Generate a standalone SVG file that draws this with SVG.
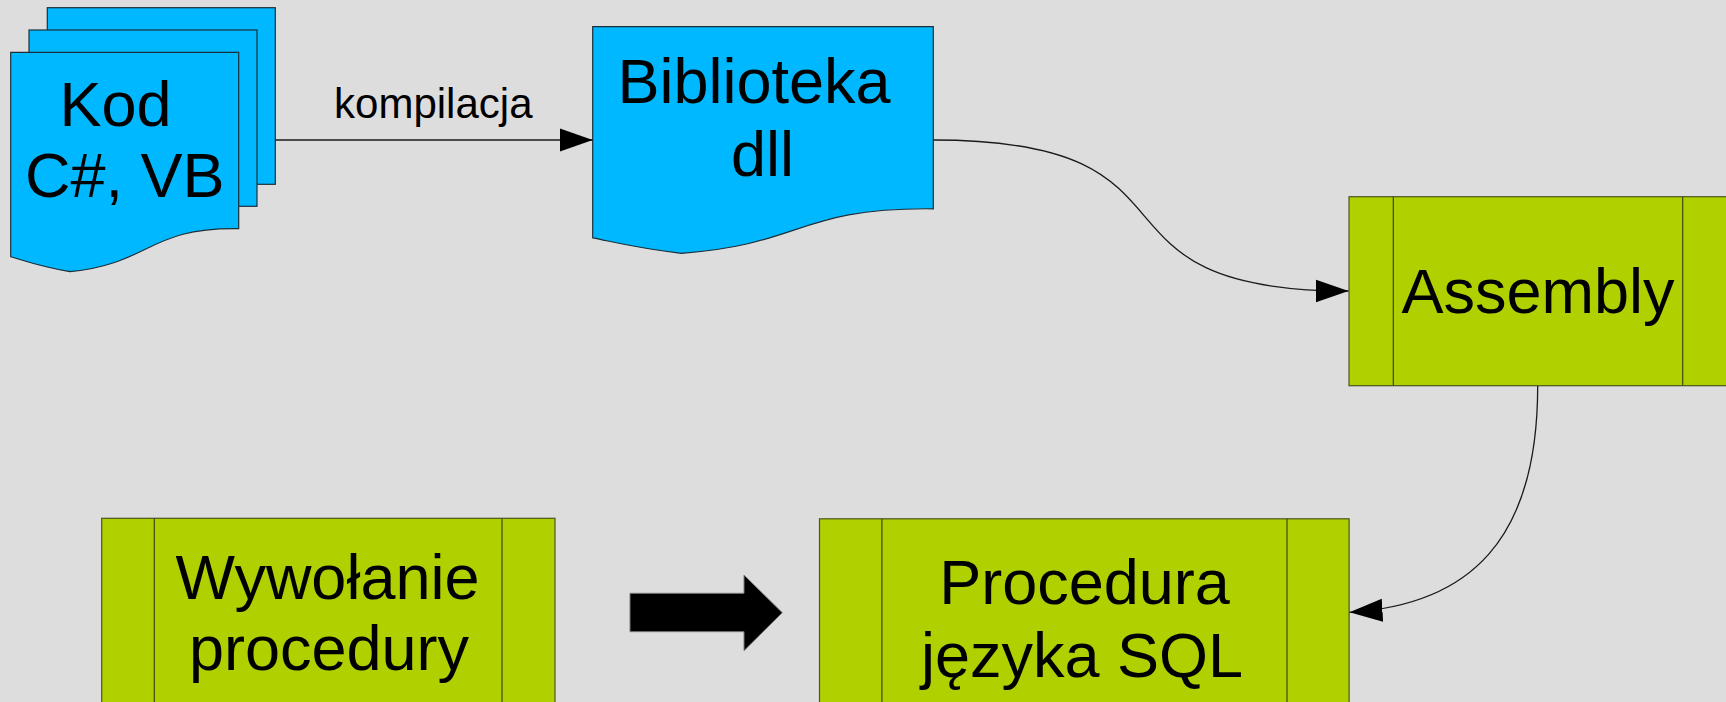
<svg xmlns="http://www.w3.org/2000/svg" width="1726" height="702" viewBox="0 0 1726 702">
  <style>
    .doc { fill: #00b8ff; stroke: #1c2f38; stroke-width: 1.2; }
    .proc { fill: #b0d000; stroke: #4d5520; stroke-width: 1.2; }
    .bar { fill: none; stroke: #3f4712; stroke-width: 1.2; }
    .big { font-family: "Liberation Sans", Arial, sans-serif; font-size: 63px; fill: #000; text-anchor: middle; }
    .small { font-family: "Liberation Sans", Arial, sans-serif; font-size: 42px; fill: #000; text-anchor: middle; }
    .wire { fill: none; stroke: #1a1a1a; stroke-width: 1.3; }
  </style>
  <defs>
    <marker id="head" markerUnits="userSpaceOnUse" markerWidth="34" markerHeight="24" refX="33" refY="11.5" orient="auto" viewBox="0 0 34 23">
      <path d="M0,0 L33,11.5 L0,23 Z" fill="#000"/>
    </marker>
  </defs>

  <rect width="1726" height="702" fill="#dddddd"/>

  <!-- source files stacked as a multi-document -->
  <g id="kod">
    <rect class="doc" x="47.3" y="7.7" width="228" height="176.6"/>
    <rect class="doc" x="29" y="30" width="228" height="176.3"/>
    <path class="doc" d="M10.7,52.3 L238.7,52.3 L238.7,228.6 C148.5,227.2 151.5,263.3 70,271.7 C40.9,266.6 30.2,262.6 10.7,256.7 Z"/>
    <text class="big" x="115.5" y="126">Kod</text>
    <text class="big" x="124.7" y="197.3">C#, VB</text>
  </g>

  <!-- compiled library -->
  <g id="biblioteka">
    <path class="doc" d="M592.7,26.7 L933.3,26.7 L933.3,208.8 C798.5,207.3 803.1,244.6 681.3,253.3 C637.8,248.1 621.9,243.8 592.7,237.8 Z"/>
    <text class="big" x="754" y="103.3">Biblioteka</text>
    <text class="big" x="762.5" y="175.7">dll</text>
  </g>

  <g id="assembly">
    <rect class="proc" x="1349" y="196.7" width="378" height="189"/>
    <line class="bar" x1="1393.3" y1="196.7" x2="1393.3" y2="385.7"/>
    <line class="bar" x1="1682.7" y1="196.7" x2="1682.7" y2="385.7"/>
    <text class="big" x="1538" y="313.3">Assembly</text>
  </g>

  <g id="wywolanie">
    <rect class="proc" x="101.7" y="518.3" width="453.3" height="200"/>
    <line class="bar" x1="154.3" y1="518.3" x2="154.3" y2="718"/>
    <line class="bar" x1="502" y1="518.3" x2="502" y2="718"/>
    <text class="big" x="327.5" y="599.3">Wywołanie</text>
    <text class="big" x="329" y="670">procedury</text>
  </g>

  <g id="procedura">
    <rect class="proc" x="819.5" y="518.8" width="529.6" height="200"/>
    <line class="bar" x1="881.9" y1="518.8" x2="881.9" y2="718"/>
    <line class="bar" x1="1287" y1="518.8" x2="1287" y2="718"/>
    <text class="big" x="1084.5" y="604">Procedura</text>
    <text class="big" x="1082" y="676.6">języka SQL</text>
  </g>

  <g id="connectors">
    <path class="wire" d="M275.3,140 L592.7,140" marker-end="url(#head)"/>
    <text class="small" x="433.3" y="118">kompilacja</text>
    <path class="wire" d="M933.3,140 C1224,140 1066,291 1348.5,291" marker-end="url(#head)"/>
    <path class="wire" d="M1537.7,386 C1537.7,540 1470,605 1349.5,612.3" marker-end="url(#head)"/>
    <!-- block arrow between the two procedure boxes -->
    <polygon points="630,593.3 744,593.3 744,575 782.3,612.7 744,650.7 744,631.7 630,631.7" fill="#000" stroke="#7a7a7a" stroke-width="1"/>
  </g>
</svg>
